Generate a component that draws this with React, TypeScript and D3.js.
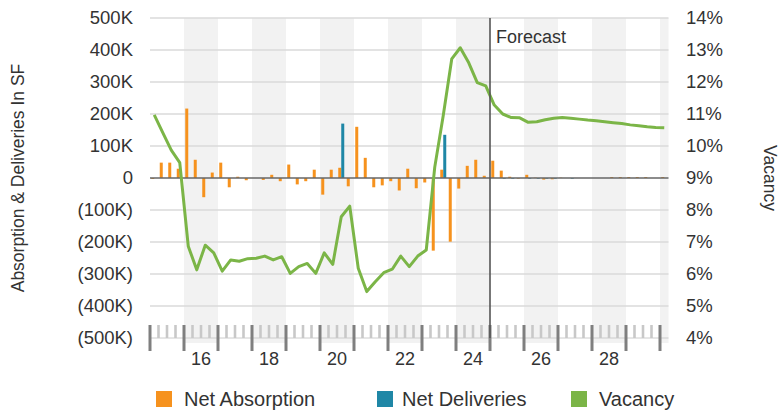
import React from "react";
import * as d3 from "d3";

// Quarterly series, 2015 Q1 through 2030 Q1 (history to 2024 Q4, forecast after)
const years = [2015, 2016, 2017, 2018, 2019, 2020, 2021, 2022, 2023, 2024, 2025, 2026, 2027, 2028, 2029, 2030];
const quarters: string[] = years.flatMap((y) => [1, 2, 3, 4].map((q) => `${y}Q${q}`)).slice(0, 61);

// Net absorption, thousands of SF
const netAbsorption = [
  -3, 48, 48, 29,
  217, 57, -60, 17,
  48, -29, 4, -7,
  0, -6, 10, -10,
  42, -20, -10, 26,
  -52, 26, 32, -26,
  160, 63, -29, -23,
  -10, -39, 29, -32,
  -14, -227, 26, -199,
  -33, 38, 57, 7,
  54, 23, 4, -2,
  10, 1, -5, -4,
  1, 0, 0, 0,
  0, 0, 3, 3,
  3, 3, 3, 0,
  3,
];

// Net deliveries, thousands of SF
const netDeliveries = [
  0, 0, 0, 0,
  0, 0, 0, 0,
  0, 0, 0, 0,
  0, 0, 0, 0,
  0, 0, 0, 0,
  0, 0, 170, 0,
  0, 0, 0, 0,
  0, 0, 0, 0,
  0, 0, 135, 0,
  0, 0, 0, 0,
  0, -2, -2, 0,
  -2, -2, -2, -2,
  0, -2, 0, 0,
  0, 0, 0, 0,
  0, 0, 0, 0,
  0,
];

// Vacancy rate, percent
const vacancy = [
  10.97, 10.42, 9.87, 9.48,
  6.87, 6.13, 6.9, 6.66,
  6.09, 6.44, 6.4, 6.48,
  6.49, 6.56, 6.44, 6.54,
  6.02, 6.23, 6.33, 6.02,
  6.66, 6.3, 7.79, 8.12,
  6.18, 5.45, 5.76, 6.04,
  6.15, 6.56, 6.23, 6.56,
  6.75, 9.34, 10.95, 12.72,
  13.07, 12.6, 11.98, 11.88,
  11.28, 11.0, 10.89, 10.88,
  10.74, 10.76, 10.82, 10.87,
  10.89, 10.87, 10.84, 10.81,
  10.79, 10.76, 10.73, 10.7,
  10.66, 10.63, 10.6, 10.58,
  10.57,
];

const leftTicks = [500, 400, 300, 200, 100, 0, -100, -200, -300, -400, -500];
const rightTicks = [14, 13, 12, 11, 10, 9, 8, 7, 6, 5, 4];
const yearLabels = [2016, 2018, 2020, 2022, 2024, 2026, 2028];
const forecastStart = "2025Q1";

const series = [
  { key: "abs", label: "Net Absorption", color: "#F6921E" },
  { key: "del", label: "Net Deliveries", color: "#1F87A6" },
  { key: "vac", label: "Vacancy", color: "#7BB547" },
];

const W = 780;
const H = 411;
const M = { left: 150, right: 668.5, top: 18, bottom: 338 };
const FONT = "'Liberation Sans', Arial, Helvetica, sans-serif";
const TXT = "#333";

const fmtK = (v: number) => (v < 0 ? `(${Math.abs(v)}K)` : v === 0 ? "0" : `${v}K`);

export default function App() {
  const x = d3.scaleBand<string>().domain(quarters).range([M.left, M.right]).padding(0);
  const bw = x.bandwidth();
  const sub = d3.scaleBand<string>().domain(["abs", "del"]).range([bw / 2 - 3, bw / 2 + 3]).padding(0);
  const yL = d3.scaleLinear().domain([-500, 500]).range([M.bottom, M.top]);
  const yR = d3.scaleLinear().domain([4, 14]).range([M.bottom, M.top]);

  const line = d3
    .line<number>()
    .x((_, i) => (x(quarters[i]) as number) + bw / 2)
    .y((d) => yR(d))
    .curve(d3.curveLinear);

  const yearStart = (y: number) => x(`${y}Q1`) as number;
  const fx = x(forecastStart) as number;

  const bar = (v: number, key: string, i: number, color: string) => {
    const x0 = (x(quarters[i]) as number) + (sub(key) as number);
    const y0 = yL(Math.max(0, v));
    const h = Math.abs(yL(v) - yL(0));
    return <rect key={`${key}${i}`} x={x0} y={y0} width={sub.bandwidth()} height={h} fill={color} />;
  };

  return (
    <svg
      width={W}
      height={H}
      style={{ position: "absolute", left: 0, top: 0, background: "#fff" }}
      fontFamily={FONT}
    >
      {/* alternating year bands */}
      {years
        .filter((y) => y % 2 === 0)
        .map((y) => {
          const x0 = yearStart(y);
          const x1 = Math.min(x0 + 4 * bw, M.right);
          return <rect key={y} x={x0} y={M.top} width={x1 - x0} height={343 - M.top} fill="#F2F2F2" />;
        })}

      {/* gridlines */}
      {leftTicks
        .filter((t) => t !== 0 && t !== -500)
        .map((t) => (
          <line key={t} x1={M.left} x2={M.right} y1={yL(t)} y2={yL(t)} stroke="#DADADA" strokeWidth={1.5} />
        ))}

      {/* bars */}
      {netAbsorption.map((v, i) => bar(v, "abs", i, series[0].color))}
      {netDeliveries.map((v, i) => bar(v, "del", i, series[1].color))}

      {/* zero line */}
      <line x1={M.left} x2={M.right} y1={yL(0)} y2={yL(0)} stroke="#666" strokeWidth={1.6} />

      {/* x axis: quarter ticks and year ticks */}
      <line x1={M.left} x2={M.right} y1={M.bottom} y2={M.bottom} stroke="#CCC" strokeWidth={1} />
      {quarters.map((q) => {
        const xx = x(q) as number;
        const major = q.endsWith("Q1");
        return major ? (
          <line key={q} x1={xx} x2={xx} y1={325} y2={351} stroke="#7F7F7F" strokeWidth={3} />
        ) : (
          <line key={q} x1={xx} x2={xx} y1={325} y2={M.bottom} stroke="#C8C8C8" strokeWidth={2.6} />
        );
      })}
      {yearLabels.map((y) => (
        <text
          key={y}
          x={yearStart(y) + 2 * bw}
          y={365}
          textAnchor="middle"
          fontSize={18}
          fill={TXT}
        >
          {String(y).slice(2)}
        </text>
      ))}

      {/* vacancy line */}
      <path d={line(vacancy) || ""} fill="none" stroke={series[2].color} strokeWidth={3} strokeLinejoin="round" />

      {/* forecast marker */}
      <line x1={fx} x2={fx} y1={M.top} y2={M.bottom} stroke="#555" strokeWidth={1.6} />
      <text x={fx + 6} y={43} fontSize={18} fill={TXT}>
        Forecast
      </text>

      {/* left axis */}
      {leftTicks.map((t) => (
        <text key={t} x={133} y={yL(t)} dy="0.35em" textAnchor="end" fontSize={18.5} fill={TXT}>
          {fmtK(t)}
        </text>
      ))}
      <text
        transform={`translate(24,${(M.top + M.bottom) / 2}) rotate(-90)`}
        textAnchor="middle"
        fontSize={17.5}
        fill={TXT}
      >
        Absorption &amp; Deliveries In SF
      </text>

      {/* right axis */}
      {rightTicks.map((t) => (
        <text key={t} x={686} y={yR(t)} dy="0.35em" textAnchor="start" fontSize={18.5} fill={TXT}>
          {`${t}%`}
        </text>
      ))}
      <text
        transform={`translate(764,${(M.top + M.bottom) / 2}) rotate(90)`}
        textAnchor="middle"
        fontSize={17.5}
        fill={TXT}
      >
        Vacancy
      </text>

      {/* legend */}
      {[
        { ...series[0], sx: 156, tx: 184 },
        { ...series[1], sx: 377, tx: 402 },
        { ...series[2], sx: 571, tx: 599 },
      ].map((s) => (
        <g key={s.key}>
          <rect x={s.sx} y={391} width={16} height={16} fill={s.color} />
          <text x={s.tx} y={406} fontSize={20} fill={TXT}>
            {s.label}
          </text>
        </g>
      ))}
    </svg>
  );
}
